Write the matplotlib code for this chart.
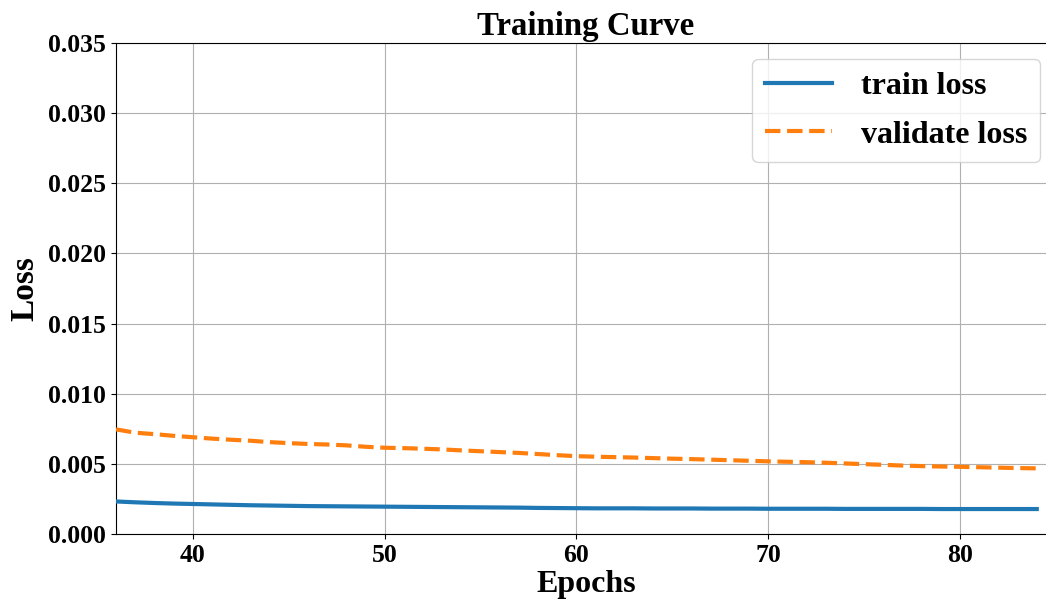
import matplotlib
matplotlib.use("Agg")
import matplotlib.pyplot as plt

plt.rcParams['font.family'] = ['Liberation Serif', 'DejaVu Serif']
plt.rcParams['font.weight'] = 'bold'

epochs = list(range(36, 85))
train_loss = [0.00232, 0.00226, 0.00221, 0.00217, 0.00214, 0.00211, 0.00208, 0.00205,
              0.00203, 0.00201, 0.00199, 0.00198, 0.00197, 0.00196, 0.00195, 0.00194,
              0.00193, 0.00192, 0.00191, 0.00190, 0.00189, 0.00188, 0.00186, 0.00185,
              0.00184, 0.00183, 0.00183, 0.00183, 0.00182, 0.00182, 0.00182, 0.00181,
              0.00181, 0.00181, 0.00180, 0.00180, 0.00180, 0.00180, 0.00179, 0.00179,
              0.00179, 0.00179, 0.00179, 0.00178, 0.00178, 0.00178, 0.00178, 0.00178,
              0.00178]
val_loss = [0.00746, 0.00722, 0.00712, 0.00700, 0.00690, 0.00680, 0.00672, 0.00665,
            0.00655, 0.00648, 0.00642, 0.00638, 0.00632, 0.00622, 0.00615, 0.00612,
            0.00608, 0.00603, 0.00596, 0.00590, 0.00584, 0.00578, 0.00570, 0.00562,
            0.00555, 0.00551, 0.00548, 0.00545, 0.00541, 0.00537, 0.00534, 0.00530,
            0.00526, 0.00522, 0.00518, 0.00515, 0.00512, 0.00508, 0.00503, 0.00498,
            0.00493, 0.00488, 0.00484, 0.00481, 0.00479, 0.00476, 0.00473, 0.00470,
            0.00468]

fig = plt.figure(figsize=(10.46, 6.06), dpi=100)
# axes extends slightly past the right edge of the figure (cropped in the reference)
ax = fig.add_axes([0.1109, 0.1188, 0.8986, 0.8102])

ax.plot(epochs, train_loss, color='#1f77b4', lw=3, label='train loss', zorder=3)
ax.plot(epochs, val_loss, color='#ff7f0e', lw=3, ls='--', label='validate loss', zorder=3)

ax.set_xlim(36, 85)
ax.set_ylim(0, 0.035)
ax.set_xticks([40, 50, 60, 70, 80])
ax.set_yticks([0.0, 0.005, 0.01, 0.015, 0.02, 0.025, 0.03, 0.035])
ax.set_yticklabels(['0.000', '0.005', '0.010', '0.015', '0.020', '0.025', '0.030', '0.035'])
ax.grid(True, color='#b0b0b0', lw=0.8)
ax.set_axisbelow(True)

for lab in ax.get_xticklabels() + ax.get_yticklabels():
    lab.set_fontsize(18.5)
    lab.set_fontweight('bold')

ax.set_title('Training Curve', fontsize=23.6, fontweight='bold', pad=6)
ax.set_xlabel('Epochs', fontsize=23, fontweight='bold', labelpad=2)
ax.set_ylabel('Loss', fontsize=24, fontweight='bold', labelpad=6)

leg = ax.legend(loc='upper right', prop={'size': 23, 'weight': 'bold'},
                handlelength=2.1, handletextpad=0.9, labelspacing=0.6,
                borderaxespad=0.5)

fig.savefig('out.png', dpi=100)
